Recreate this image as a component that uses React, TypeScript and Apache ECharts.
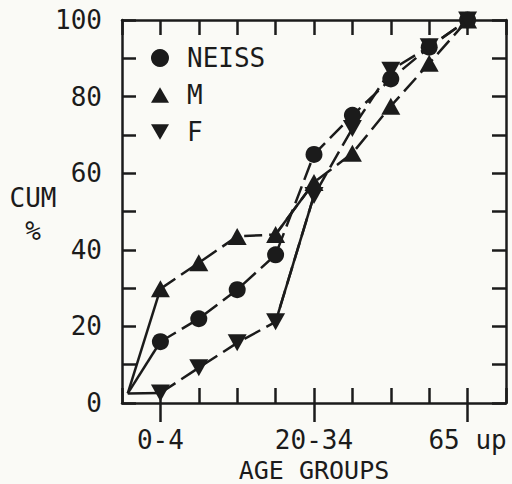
import React, { useEffect, useRef } from 'react';
import * as echarts from 'echarts';

// x positions of the age groups (1..9), axis runs 0..10
const groupPos = [1, 2, 3, 4, 5, 6, 7, 8, 9];
const tickLabels = ['', '0-4', '', '', '', '20-34', '', '', '', '65 up', ''];
const yLabelsShown = [0, 20, 40, 60, 80, 100];

const neiss = [16, 22, 29.6, 38.7, 64.9, 75.1, 84.6, 92.9, 100];
const male = [29.8, 36.6, 43.5, 44, 57.6, 65.2, 77.5, 88.7, 100];
const female = [2.6, 9.2, 15.7, 21.2, 54.2, 71.7, 86.9, 93, 100];
const origin = [0.15, 2.5];

const INK = '#1b1b1b';
const FONT = 'DejaVu Sans Mono';
const DOWN = 'path://M0,0 L20,0 L10,17 Z';
const UP = 'path://M10,0 L20,17 L0,17 Z';

export default function App() {
  const ref = useRef<HTMLDivElement>(null);
  useEffect(() => {
    if (!ref.current) return;
    const chart = echarts.init(ref.current, undefined, { renderer: 'svg' });
    const pts = (vals: number[]) => groupPos.map((x, i) => [x, vals[i]]);
    const dashed = { color: INK, width: 2.5, type: [18, 7] as number[] };
    const solid = { color: INK, width: 2.5, type: 'solid' as const };
    const mainSeries = (name: string, vals: number[], symbol: string, size: number | number[]) => ({
      name,
      type: 'line',
      data: pts(vals),
      symbol,
      symbolSize: size,
      showAllSymbol: true,
      itemStyle: { color: INK },
      lineStyle: dashed,
      z: 3,
    });
    const solidSeg = (name: string, data: number[][]) => ({
      name,
      type: 'line',
      data,
      symbol: 'none',
      lineStyle: solid,
      silent: true,
      z: 2,
    });
    const axisLineStyle = { lineStyle: { color: INK, width: 2.5 } };
    const tickStyle = { lineStyle: { color: INK, width: 2.5 } };
    chart.setOption({
      animation: false,
      backgroundColor: '#fafaf6',
      textStyle: { fontFamily: FONT, color: INK },
      grid: { left: 122, right: 6, top: 20, bottom: 81, containLabel: false, outerBoundsMode: 'none' },
      legend: {
        orient: 'vertical',
        left: 151,
        top: 45,
        padding: 0,
        itemWidth: 18,
        itemHeight: 18,
        itemGap: 11,
        selectedMode: false,
        textStyle: { fontFamily: FONT, fontSize: 26, lineHeight: 26, color: INK, padding: [0, 0, 0, 13] },
        data: [
          { name: 'NEISS', icon: 'circle' },
          { name: 'M', icon: UP },
          { name: 'F', icon: DOWN },
        ],
      },
      xAxis: [
        {
          type: 'value',
          min: 0,
          max: 10,
          interval: 1,
          position: 'bottom',
          axisLine: { show: true, onZero: false, ...axisLineStyle },
          axisTick: { show: true, inside: true, length: 15, ...tickStyle },
          axisLabel: { show: false },
          splitLine: { show: false },
        },
        {
          type: 'category',
          boundaryGap: false,
          data: tickLabels,
          position: 'bottom',
          axisLine: { show: false, onZero: false },
          axisTick: {
            show: true,
            inside: false,
            length: 19,
            interval: (i: number, v: string) => v !== '',
            ...tickStyle,
          },
          axisLabel: {
            show: true,
            interval: (i: number, v: string) => v !== '',
            margin: 24,
            fontFamily: FONT,
            fontSize: 26,
            color: INK,
          },
          name: 'AGE GROUPS',
          nameLocation: 'middle',
          nameGap: 50,
          nameTextStyle: { fontFamily: FONT, fontSize: 25, lineHeight: 25, color: INK },
          splitLine: { show: false },
        },
        {
          type: 'value',
          min: 0,
          max: 10,
          interval: 1,
          position: 'top',
          axisLine: { show: true, onZero: false, ...axisLineStyle },
          axisTick: { show: true, inside: true, length: 15, ...tickStyle },
          axisLabel: { show: false },
          splitLine: { show: false },
        },
      ],
      yAxis: [
        {
          type: 'value',
          min: 0,
          max: 100,
          interval: 10,
          position: 'left',
          axisLine: { show: true, onZero: false, ...axisLineStyle },
          axisTick: { show: true, inside: true, length: 14, ...tickStyle },
          axisLabel: {
            margin: 20,
            fontFamily: FONT,
            fontSize: 26,
            color: INK,
            formatter: (v: number) => (yLabelsShown.includes(v) ? String(v) : ''),
          },
          splitLine: { show: false },
        },
        {
          type: 'value',
          min: 0,
          max: 100,
          interval: 10,
          position: 'right',
          axisLine: { show: true, onZero: false, ...axisLineStyle },
          axisTick: { show: true, inside: true, length: 14, ...tickStyle },
          axisLabel: { show: false },
          splitLine: { show: false },
        },
      ],
      graphic: [
        {
          type: 'text',
          x: 33,
          y: 214,
          style: {
            text: 'CUM\n%',
            fontFamily: FONT,
            fontSize: 26,
            lineHeight: 33,
            fill: INK,
            align: 'center',
            verticalAlign: 'middle',
          },
        },
      ],
      series: [
        solidSeg('NEISS-lead', [origin, [groupPos[0], neiss[0]]]),
        solidSeg('M-lead', [origin, [groupPos[0], male[0]]]),
        solidSeg('F-lead', [origin, [groupPos[0], female[0]]]),
        solidSeg('M-jump', [[groupPos[3], male[3]], [groupPos[4], male[4]]]),
        solidSeg('F-jump', [[groupPos[3], female[3]], [groupPos[4], female[4]]]),
        mainSeries('NEISS', neiss, 'circle', 17),
        mainSeries('M', male, UP, [19, 17]),
        mainSeries('F', female, DOWN, [19, 17]),
      ],
    });
    return () => chart.dispose();
  }, []);
  return (
    <div
      ref={ref}
      style={{ position: 'fixed', left: 0, top: 0, width: 512, height: 484 }}
    />
  );
}
